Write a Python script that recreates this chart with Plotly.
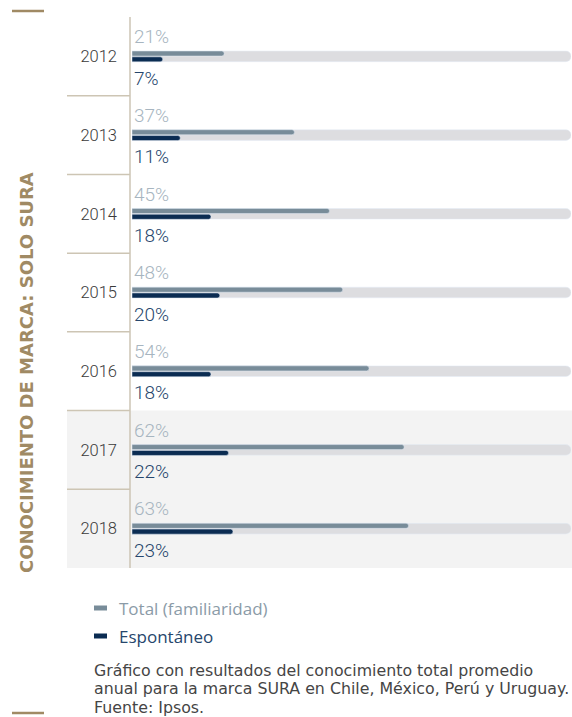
import plotly.graph_objects as go

years = ["2012", "2013", "2014", "2015", "2016", "2017", "2018"]
total = [21, 37, 45, 48, 54, 62, 63]
espontaneo = [7, 11, 18, 20, 18, 22, 23]
track = [100] * len(years)
series_names = ["Total (familiaridad)", "Espontáneo"]
title_text = "CONOCIMIENTO DE MARCA: SOLO SURA"
caption_lines = [
    "Gráfico con resultados del conocimiento total promedio",
    "anual para la marca SURA en Chile, México, Perú y Uruguay.",
    "Fuente: Ipsos.",
]

W, H = 572, 717
L, R, T, B = 132, 571, 17, 568  # plot area pixels


def px(x):
    return (x - L) / (R - L)


def py(y):
    return (B - y) / (B - T)


C_TOTAL = "#788c99"
C_ESP = "#0b2c52"
C_TRACK = "#dddde0"
C_TOT_LBL = "#a7b5c0"
C_ESP_LBL = "#26466c"
C_LINE = "#cdc5b4"
C_GOLD = "#a08a64"
FONT = "Roboto"
FONT2 = "Open Sans"
FONT3 = "DejaVu Sans"

idx = list(range(len(years)))
fig = go.Figure()

fig.add_trace(go.Bar(
    x=track, y=idx, orientation="h", width=0.135,
    marker=dict(color=C_TRACK, cornerradius=5), showlegend=False, hoverinfo="skip"))
fig.add_trace(go.Bar(
    x=total, y=[i - 0.036 for i in idx], orientation="h", width=0.064,
    marker=dict(color=C_TOTAL, cornerradius=3), name=series_names[0], showlegend=False))
fig.add_trace(go.Bar(
    x=espontaneo, y=[i + 0.038 for i in idx], orientation="h", width=0.064,
    marker=dict(color=C_ESP, cornerradius=3), name=series_names[1], showlegend=False))

annotations = []
for i, (t, e) in enumerate(zip(total, espontaneo)):
    annotations.append(dict(
        x=0, y=i - 0.25, xref="x", yref="y", text=f"{t}%", showarrow=False,
        xanchor="left", yanchor="middle", xshift=0,
        font=dict(family=FONT, size=19, color=C_TOT_LBL, weight=300)))
    annotations.append(dict(
        x=0, y=i + 0.275, xref="x", yref="y", text=f"{e}%", showarrow=False,
        xanchor="left", yanchor="middle", xshift=0,
        font=dict(family=FONT, size=19, color=C_ESP_LBL, weight=300)))

# vertical title
annotations.append(dict(
    x=px(26), y=py(373), xref="paper", yref="paper", text=title_text,
    textangle=-90, showarrow=False, xanchor="center", yanchor="middle",
    font=dict(family="DejaVu Sans", size=18, color=C_GOLD, weight=700)))

# legend
leg = [(series_names[0], C_TOTAL, "#8b9ba7", 608), (series_names[1], C_ESP, C_ESP_LBL, 636)]
shapes = []
for name, mc, tc, y in leg:
    shapes.append(dict(type="line", xref="paper", yref="paper",
                       x0=px(94), x1=px(107), y0=py(y), y1=py(y),
                       line=dict(color=mc, width=5)))
    annotations.append(dict(
        x=px(117), y=py(y), xref="paper", yref="paper", text=name, showarrow=False,
        xanchor="left", yanchor="middle",
        font=dict(family=FONT2, size=17, color=tc)))

for k, line in enumerate(caption_lines):
    annotations.append(dict(
        x=px(92), y=py(670 + 18.5 * k), xref="paper", yref="paper", text=line,
        showarrow=False, xanchor="left", yanchor="middle",
        font=dict(family=FONT3, size=15.8, color="#454545")))

# row backgrounds for 2017-2018
shapes.append(dict(type="rect", xref="paper", yref="y", x0=px(67), x1=px(572),
                   y0=4.5, y1=6.5, fillcolor="#f3f3f3", line=dict(width=0), layer="below"))
# row separators
for i in range(len(years) - 1):
    shapes.append(dict(type="line", xref="paper", yref="y", x0=px(67), x1=px(130),
                       y0=i + 0.5, y1=i + 0.5, line=dict(color=C_LINE, width=1.5)))
# vertical axis line
shapes.append(dict(type="line", xref="paper", yref="paper", x0=px(130), x1=px(130),
                   y0=0, y1=1, line=dict(color=C_LINE, width=1.5)))
# gold rules
for y in (11, 713):
    shapes.append(dict(type="line", xref="paper", yref="paper", x0=px(12), x1=px(44),
                       y0=py(y), y1=py(y), line=dict(color=C_GOLD, width=2.5)))

fig.update_layout(
    width=W, height=H,
    margin=dict(l=L, r=W - R, t=T, b=H - B),
    paper_bgcolor="white", plot_bgcolor="rgba(0,0,0,0)",
    barmode="overlay", showlegend=False,
    xaxis=dict(range=[0, 100], visible=False, fixedrange=True),
    yaxis=dict(range=[6.5, -0.5], tickvals=idx, ticktext=years,
               showgrid=False, zeroline=False, showline=False, ticks="",
               ticklabelstandoff=14,
               tickfont=dict(family=FONT, size=16.5, color="#3a3a3a", weight=300)),
    annotations=annotations, shapes=shapes,
)

fig.write_html("out.html")
